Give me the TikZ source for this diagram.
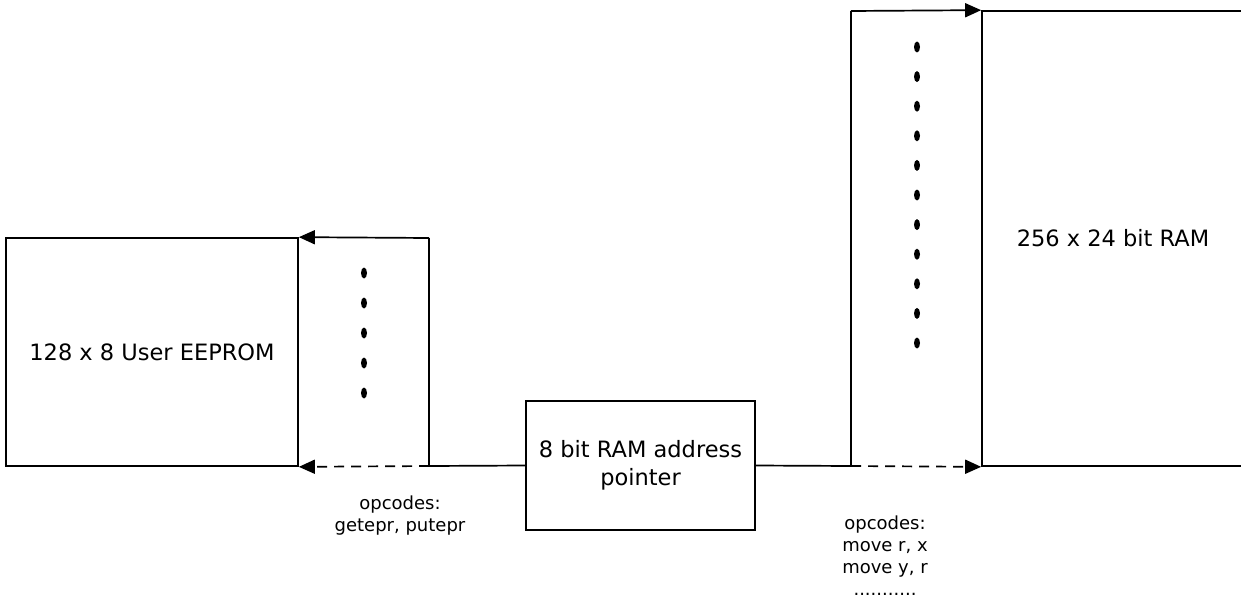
\documentclass[tikz,border=0pt]{standalone}
\usepackage{fontspec}
\setmainfont{DejaVu Sans}
\usetikzlibrary{arrows.meta}
\begin{document}
\begin{tikzpicture}[x=1pt,y=-1pt,
  line width=1.7pt,
  box/.style={draw, rectangle, inner sep=0pt, align=center,
    font=\fontsize{22.5}{28}\selectfont},
  note/.style={align=center, inner sep=0pt,
    font=\fontsize{18}{22}\selectfont},
  flow/.style={-{Triangle[length=16pt,width=14pt]}},
  dashflow/.style={flow, dash pattern=on 10pt off 7pt},
  dot/.style={fill=black, draw=none}]
\useasboundingbox (0,0) rectangle (1241,599);
\clip (0,0) rectangle (1241,599);

% memories and pointer
\node[box, minimum width=292pt, minimum height=228pt] (eeprom) at (152,352) {128 x 8 User EEPROM};
\node[box, minimum width=229pt, minimum height=129pt] (pointer) at (640.5,465.5) {8 bit RAM address\\pointer};
\node[box, minimum width=262pt, minimum height=455pt] (ram) at (1113,238.5) {256 x 24 bit RAM};

% frame corners of the two transfer paths
\coordinate (lt) at (429,238);
\coordinate (lb) at (429,466);
\coordinate (rt) at (851,11);
\coordinate (rb) at (851,466);

% EEPROM side
\draw (pointer.west) -- (lb) -- (lt);
\draw[flow] (lt) -- (eeprom.north east);
\draw[dashflow] (lb) -- (eeprom.south east);

% RAM side
\draw (pointer.east) -- (rb) -- (rt);
\draw[flow] (rt) -- (ram.north west);
\draw[dashflow] (rb) -- (ram.south west);

% ellipsis marks between the frame lines
\foreach \i in {0,...,4}
  \fill[dot] (364,273+30*\i) ellipse [x radius=3pt, y radius=5.5pt];
\foreach \i in {0,...,10}
  \fill[dot] (917,47+29.6*\i) ellipse [x radius=3pt, y radius=5.5pt];

% opcode notes
\node[note] (opl) at (400,516) {opcodes:\\getepr, putepr};
\node[note] (opr) at (885,556) {opcodes:\\move r, x\\move y, r\\...........};
\end{tikzpicture}
\end{document}
